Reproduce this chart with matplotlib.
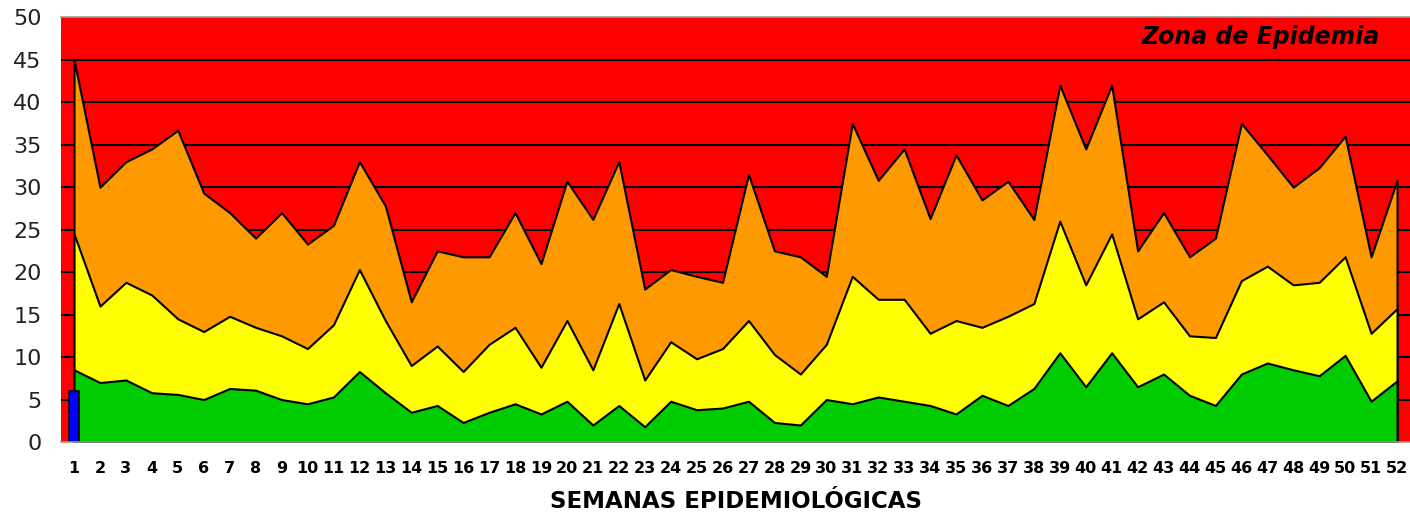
import matplotlib.pyplot as plt
import numpy as np

weeks = list(range(1, 53))

# cumulative limits of each zone
exito = [8.5, 7.0, 7.3, 5.8, 5.6, 5.0, 6.3, 6.1, 5.0, 4.5, 5.3, 8.3, 5.8,
         3.5, 4.3, 2.3, 3.5, 4.5, 3.3, 4.8, 2.0, 4.3, 1.8, 4.8, 3.8, 4.0,
         4.8, 2.3, 2.0, 5.0, 4.5, 5.3, 4.8, 4.3, 3.3, 5.5, 4.3, 6.3, 10.5,
         6.5, 10.5, 6.5, 8.0, 5.5, 4.3, 8.0, 9.3, 8.5, 7.8, 10.2, 4.8, 7.2]
seguridad = [24.5, 16.0, 18.8, 17.3, 14.5, 13.0, 14.8, 13.5, 12.5, 11.0, 13.8,
             20.3, 14.3, 9.0, 11.3, 8.3, 11.5, 13.5, 8.8, 14.3, 8.5, 16.3, 7.3,
             11.8, 9.8, 11.0, 14.3, 10.3, 8.0, 11.5, 19.5, 16.8, 16.8, 12.8,
             14.3, 13.5, 14.8, 16.3, 26.0, 18.5, 24.5, 14.5, 16.5, 12.5, 12.3,
             19.0, 20.7, 18.5, 18.8, 21.8, 12.8, 15.7]
alerta = [45.0, 30.0, 33.0, 34.5, 36.7, 29.3, 27.0, 24.0, 27.0, 23.3, 25.5,
          33.0, 27.8, 16.5, 22.5, 21.8, 21.8, 27.0, 21.0, 30.7, 26.2, 33.0,
          18.0, 20.3, 19.5, 18.8, 31.5, 22.5, 21.8, 19.5, 37.5, 30.8, 34.5,
          26.3, 33.8, 28.5, 30.7, 26.2, 42.0, 34.5, 42.0, 22.5, 27.0, 21.8,
          24.0, 37.5, 33.8, 30.0, 32.3, 36.0, 21.8, 30.8]
casos_semana = [1]
casos = [6]

fig = plt.figure(figsize=(14.1, 5.18), dpi=100)
ax = fig.add_axes([0.0433, 0.1467, 0.9567, 0.82])
ax.set_facecolor('#ff0000')

x = np.array(weeks)
ax.fill_between(x, 0, alerta, facecolor='#ff9900', edgecolor='black', lw=1.5, zorder=2)
ax.fill_between(x, 0, seguridad, facecolor='#ffff00', edgecolor='black', lw=1.5, zorder=3)
ax.fill_between(x, 0, exito, facecolor='#00cc00', edgecolor='black', lw=1.5, zorder=4)
ax.bar(casos_semana, casos, width=0.42, color='#0000ff', edgecolor='black', lw=1.2, zorder=5)

ax.set_xlim(0.5, 52.5)
ax.set_ylim(0, 50)
ax.set_yticks(range(0, 51, 5))
ax.set_xticks(weeks)
ax.set_xticklabels([str(w) for w in weeks], fontsize=11.5, fontweight='bold')
ax.tick_params(axis='y', labelsize=16, length=0, pad=14)
ax.tick_params(axis='x', length=0, pad=14)
for lab in ax.get_yticklabels():
    lab.set_color('#222222')

for v in range(5, 50, 5):
    ax.axhline(v, color='black', lw=1.5, zorder=1)

for s in ax.spines.values():
    s.set_color('#999999')
    s.set_linewidth(1.2)
    s.set_zorder(6)
ax.spines['left'].set_visible(False)
ax.spines['right'].set_visible(False)

ax.text(0.978, 0.953, 'Zona de Epidemia', transform=ax.transAxes, ha='right', va='center',
        fontsize=17, fontweight='bold', fontstyle='italic', zorder=6)
ax.set_xlabel('SEMANAS EPIDEMIOLÓGICAS', fontsize=16.5, fontweight='bold', labelpad=10)

fig.savefig('out.png', dpi=100)
